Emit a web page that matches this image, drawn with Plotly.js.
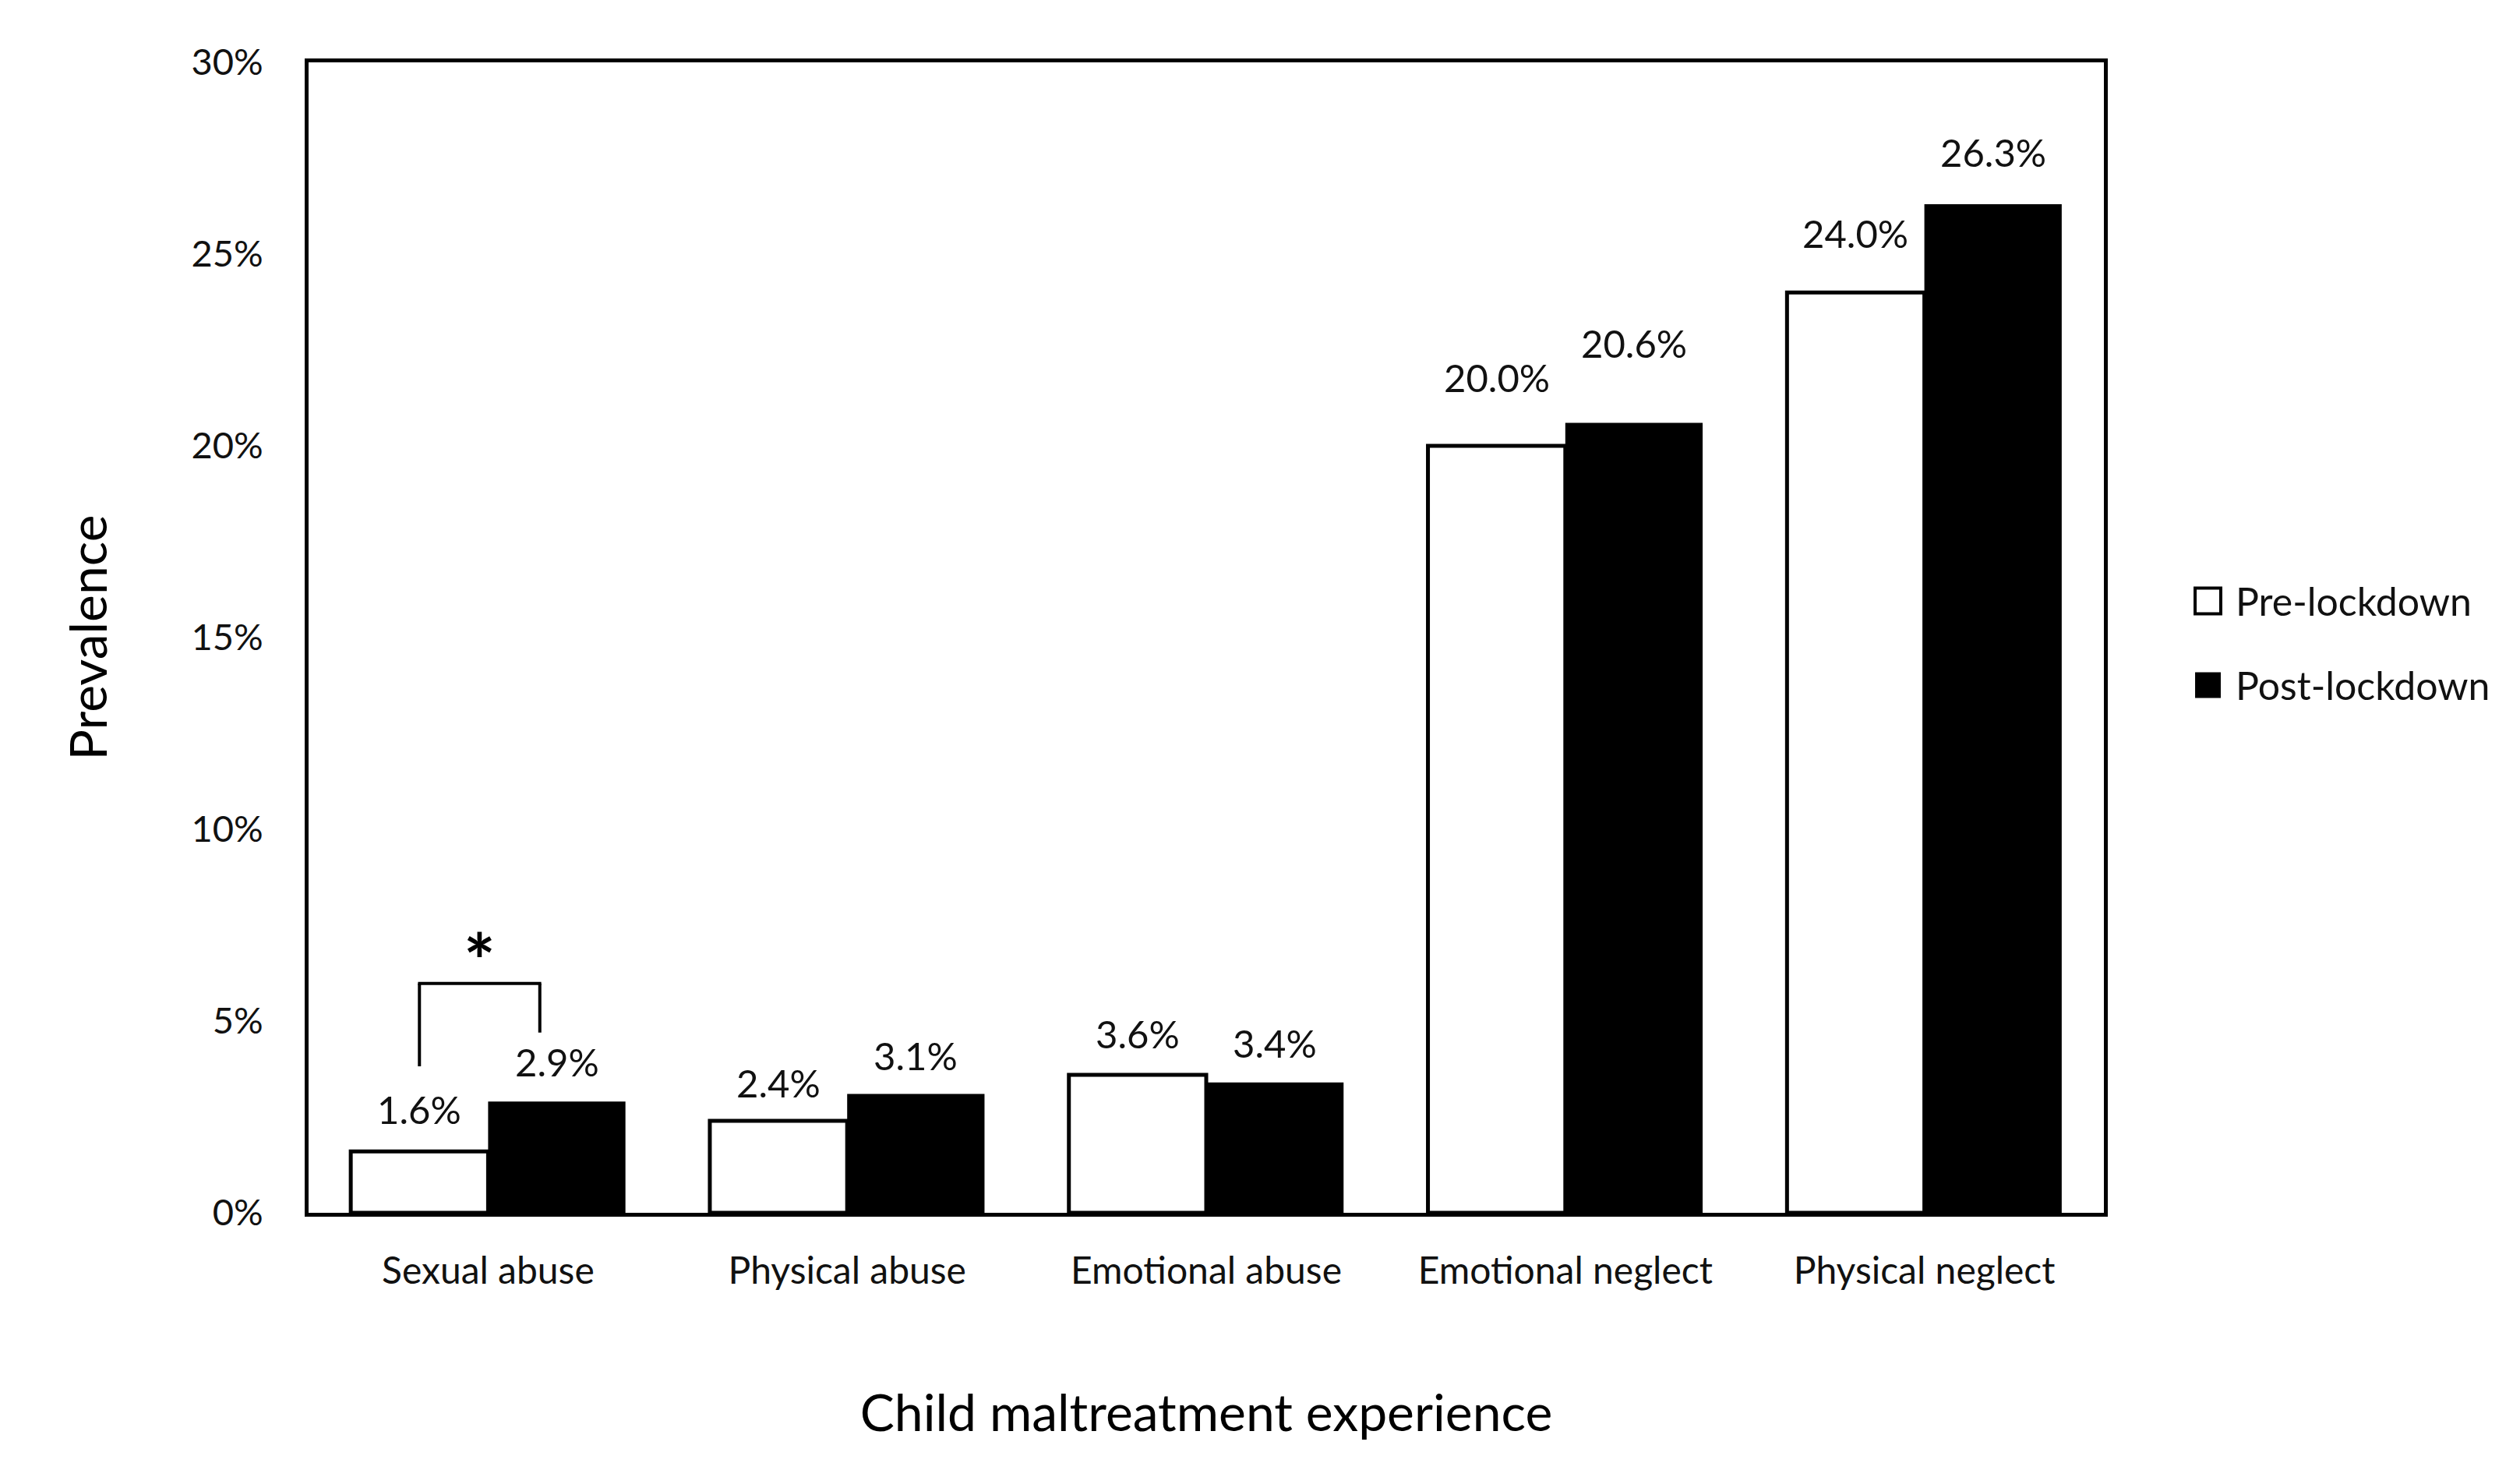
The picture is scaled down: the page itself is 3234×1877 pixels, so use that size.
<!DOCTYPE html>
<html>
<head>
<meta charset="utf-8">
<script src="https://cdn.plot.ly/plotly-3.0.1.min.js"></script>
<style>
  html, body { margin: 0; padding: 0; background: #fff; }
  #chart { width: 3234px; height: 1877px; }
</style>
</head>
<body>
<div id="chart"></div>
<script>
// ---- data ----
const categories = ['Sexual abuse', 'Physical abuse', 'Emotional abuse', 'Emotional neglect', 'Physical neglect'];
const seriesNames = ['Pre-lockdown', 'Post-lockdown'];
const preLockdown = [1.6, 2.4, 3.6, 20.0, 24.0];
const postLockdown = [2.9, 3.1, 3.4, 20.6, 26.3];
const yTickVals = [0, 5, 10, 15, 20, 25, 30];
const yTickText = ['0%', '5%', '10%', '15%', '20%', '25%', '30%'];
const xTitle = 'Child maltreatment experience';
const yTitle = 'Prevalence';
const significanceMark = '*';

// ---- styling / layout helpers ----
const FONT = 'Lato, "Open Sans", sans-serif';
const BARGAP = 0.235;
const half = (1 - BARGAP) / 4;           // offset of each bar centre from category centre
const labelGapPre = [34, 29, 33, 68, 56];   // px between label baseline and bar top (as placed in the source)
const labelGapPost = [31, 29, 31, 82, 47];
const DESC = 11;

const fmt = v => v.toFixed(1) + '%';

const traces = [
  {
    type: 'bar', name: seriesNames[0], x: categories, y: preLockdown,
    marker: { color: '#ffffff', line: { color: '#000000', width: 5 } },
    showlegend: false, hoverinfo: 'skip'
  },
  {
    type: 'bar', name: seriesNames[1], x: categories, y: postLockdown,
    marker: { color: '#000000', line: { color: '#000000', width: 0 } },
    showlegend: false, hoverinfo: 'skip'
  }
];

const annotations = [];
preLockdown.forEach((v, i) => annotations.push({
  x: i - half, y: v, xref: 'x', yref: 'y', text: fmt(v), showarrow: false,
  xanchor: 'center', yanchor: 'bottom', yshift: labelGapPre[i] - DESC,
  font: { family: FONT, size: 49, color: '#111' }
}));
postLockdown.forEach((v, i) => annotations.push({
  x: i + half, y: v, xref: 'x', yref: 'y', text: fmt(v), showarrow: false,
  xanchor: 'center', yanchor: 'bottom', yshift: labelGapPost[i] - DESC,
  font: { family: FONT, size: 49, color: '#111' }
}));

// significance bracket between the sexual-abuse bars
const br = { xl: -half, xr: 0.144, top: 5.98, botL: 3.82, botR: 4.7 };
const shapes = [
  { type: 'line', xref: 'x', yref: 'y', x0: br.xl, x1: br.xl, y0: br.botL, y1: br.top, line: { color: '#000', width: 4 } },
  { type: 'line', xref: 'x', yref: 'y', x0: br.xl - 0.004, x1: br.xr + 0.004, y0: br.top, y1: br.top, line: { color: '#000', width: 4 } },
  { type: 'line', xref: 'x', yref: 'y', x0: br.xr, x1: br.xr, y0: br.top, y1: br.botR, line: { color: '#000', width: 4 } }
];
annotations.push({
  x: (br.xl + br.xr) / 2, y: 7.07, xref: 'x', yref: 'y', text: '<b>' + significanceMark + '</b>', showarrow: false,
  xanchor: 'center', yanchor: 'middle', yshift: -22,
  font: { family: FONT, size: 96, color: '#000' }
});

// custom legend (large square keys like the source)
const legY = [0.5318, 0.4587];
const legBoxX = [1.0508, 1.0651];
const boxH = 0.0112;
seriesNames.forEach((name, k) => {
  shapes.push({
    type: 'rect', xref: 'paper', yref: 'paper',
    x0: legBoxX[0], x1: legBoxX[1], y0: legY[k] - boxH, y1: legY[k] + boxH,
    fillcolor: k === 0 ? '#ffffff' : '#000000',
    line: { color: '#000', width: k === 0 ? 4 : 0 }
  });
  annotations.push({
    x: 1.0725, y: legY[k], xref: 'paper', yref: 'paper', text: name, showarrow: false,
    xanchor: 'left', yanchor: 'middle', font: { family: FONT, size: 50, color: '#111' }
  });
});

const layout = {
  width: 3234, height: 1877,
  paper_bgcolor: '#ffffff', plot_bgcolor: '#ffffff',
  margin: { l: 396, r: 534, t: 80, b: 321, pad: 0 },
  barmode: 'group', bargap: BARGAP, bargroupgap: 0,
  showlegend: false,
  font: { family: FONT, color: '#111' },
  xaxis: {
    type: 'category', categoryorder: 'array', categoryarray: categories,
    showgrid: false, zeroline: false, ticks: '',
    showline: true, mirror: true, linecolor: '#000', linewidth: 5,
    tickfont: { family: FONT, size: 48, color: '#111' },
    ticklabelstandoff: 28,
    title: { text: xTitle, font: { family: FONT, size: 66, color: '#000' }, standoff: 136 }
  },
  yaxis: {
    range: [0, 30], tickvals: yTickVals, ticktext: yTickText,
    showgrid: false, zeroline: false, ticks: '',
    showline: true, mirror: true, linecolor: '#000', linewidth: 5,
    tickfont: { family: FONT, size: 47, color: '#111' },
    ticklabelstandoff: 44,
    title: { text: yTitle, font: { family: FONT, size: 66, color: '#000' }, standoff: 88 }
  },
  shapes: shapes,
  annotations: annotations
};

Plotly.newPlot('chart', traces, layout, { staticPlot: true, displayModeBar: false });
</script>
</body>
</html>
